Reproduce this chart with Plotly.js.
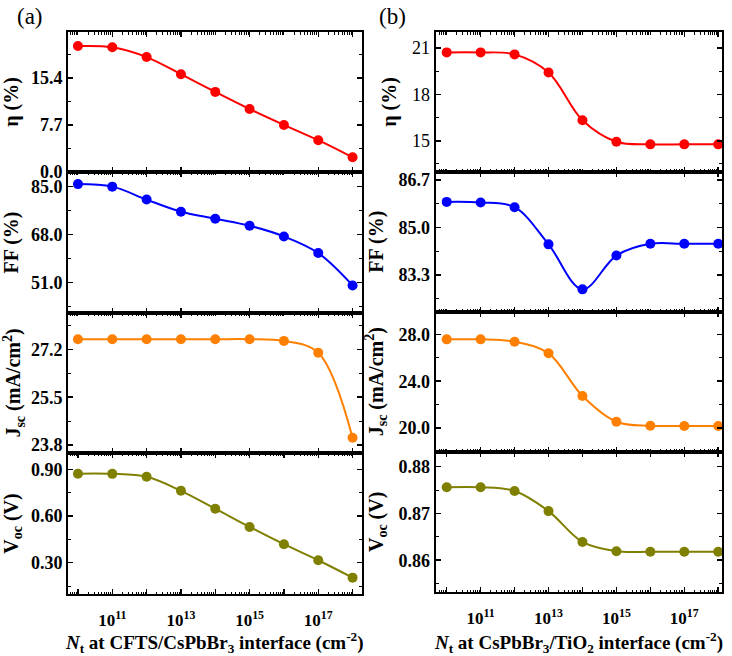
<!DOCTYPE html>
<html><head><meta charset="utf-8">
<script src="https://cdn.plot.ly/plotly-3.0.1.min.js"></script>
<style>html,body{margin:0;padding:0;background:#fff}</style>
</head><body>
<div id="chart" style="width:732px;height:656px"></div>
<script>
// Trap density N_t (cm^-2)
const nt = [1e10, 1e11, 1e12, 1e13, 1e14, 1e15, 1e16, 1e17, 1e18];
// (a) CFTS/CsPbBr3 interface
const etaA = [20.6, 20.4, 18.8, 16.0, 13.1, 10.3, 7.7, 5.2, 2.4];
const ffA  = [85.9, 85.0, 80.4, 76.1, 73.6, 71.1, 67.3, 61.4, 49.9];
const jscA = [27.56, 27.56, 27.56, 27.56, 27.56, 27.56, 27.5, 27.08, 24.06];
const vocA = [0.872, 0.871, 0.852, 0.762, 0.647, 0.530, 0.419, 0.316, 0.204];
// (b) CsPbBr3/TiO2 interface
const etaB = [20.72, 20.72, 20.59, 19.42, 16.33, 14.94, 14.77, 14.77, 14.77];
const ffB  = [85.92, 85.90, 85.73, 84.40, 82.79, 84.00, 84.42, 84.42, 84.42];
const jscB = [27.6, 27.6, 27.4, 26.4, 22.73, 20.52, 20.17, 20.15, 20.15];
const vocB = [0.8756, 0.8756, 0.8748, 0.8705, 0.8639, 0.8619, 0.8618, 0.8618, 0.8618];
// x tick labels
const xTickVals = [1e10, 1e11, 1e12, 1e13, 1e14, 1e15, 1e16, 1e17, 1e18];
const xTickText = ['', '10<sup>11</sup>', '', '10<sup>13</sup>', '', '10<sup>15</sup>', '', '10<sup>17</sup>', ''];
const yTitles = ['η (%)', 'FF (%)', 'J<sub>sc</sub> (mA/cm<sup>2</sup>)', 'V<sub>oc</sub> (V)'];
const xTitleA = '<i>N</i><sub>t</sub> at CFTS/CsPbBr<sub>3</sub> interface (cm<sup>-2</sup>)';
const xTitleB = '<i>N</i><sub>t</sub> at CsPbBr<sub>3</sub>/TiO<sub>2</sub> interface (cm<sup>-2</sup>)';

const colors = ['#ff0000', '#0000ff', '#ff8000', '#808000'];
const W = 732, H = 656;
const serif = 'Liberation Serif';

const panels = [
  {y: etaA, range: [0, 22.9], tick0: 0, dtick: 7.7, fmt: '.1f', bold: true},
  {y: ffA, range: [40.1, 90.2], tick0: 51, dtick: 17, fmt: '.1f', bold: true},
  {y: jscA, range: [23.52, 28.49], tick0: 23.8, dtick: 1.7, fmt: '.1f', bold: true},
  {y: vocA, range: [0.099, 1.005], tick0: 0.3, dtick: 0.3, fmt: '.2f', bold: true},
  {y: etaB, range: [13.0, 22.02], tick0: 15, dtick: 3, fmt: 'd', bold: false},
  {y: ffB, range: [81.99, 87.0], tick0: 83.3, dtick: 1.7, fmt: '.1f', bold: true},
  {y: jscB, range: [17.94, 29.98], tick0: 20, dtick: 4, fmt: '.1f', bold: true},
  {y: vocB, range: [0.8532, 0.8832], tick0: 0.86, dtick: 0.01, fmt: '.2f', bold: true}
];

const colX = [[68 / W, 361.5 / W], [435.7 / W, 722.3 / W]];
const colXRange = [[9.71, 18.26], [9.676, 18.12]];
const bounds = [[32, 172, 313, 453, 594], [32.3, 171.7, 311.7, 451.7, 592]];

const data = [];
const layout = {
  width: W, height: H,
  margin: {l: 0, r: 0, t: 0, b: 0},
  paper_bgcolor: '#fff', plot_bgcolor: '#fff',
  showlegend: false,
  font: {family: serif, color: '#000'},
  annotations: [
    {text: '(a)', x: 30 / W, y: 1 - 16 / H, xref: 'paper', yref: 'paper', showarrow: false,
     xanchor: 'center', yanchor: 'middle', font: {family: serif, size: 23, color: '#000'}},
    {text: '(b)', x: 392 / W, y: 1 - 16 / H, xref: 'paper', yref: 'paper', showarrow: false,
     xanchor: 'center', yanchor: 'middle', font: {family: serif, size: 23, color: '#000'}}
  ]
};

panels.forEach((p, i) => {
  const col = i < 4 ? 0 : 1;
  const row = i % 4;
  const n = i + 1;
  const xa = 'x' + (n === 1 ? '' : n), ya = 'y' + (n === 1 ? '' : n);
  const xk = 'xaxis' + (n === 1 ? '' : n), yk = 'yaxis' + (n === 1 ? '' : n);
  data.push({
    x: nt, y: p.y, xaxis: xa, yaxis: ya, type: 'scatter', mode: 'lines+markers',
    line: {color: colors[row], width: 2, shape: 'spline', smoothing: 1},
    marker: {color: colors[row], size: 10, symbol: 'circle'}
  });
  const b = bounds[col];
  const isBottom = row === 3;
  layout[xk] = {
    type: 'log', domain: colX[col], range: colXRange[col], anchor: ya,
    showline: true, linewidth: 2, linecolor: '#000', mirror: 'ticks',
    ticks: 'inside', ticklen: 5, tickwidth: 1.5, tickcolor: '#000',
    tickmode: 'array', tickvals: xTickVals, ticktext: xTickText,
    showticklabels: isBottom, showgrid: false, zeroline: false,
    ticklabelstandoff: 10,
    tickfont: {family: serif, size: 17, color: '#000', weight: 'bold'},
    minor: {ticks: 'inside', ticklen: 2.5, tickwidth: 1, tickcolor: '#000', dtick: 'D1', showgrid: false},
    title: isBottom ? {text: col === 0 ? xTitleA : xTitleB, standoff: 12,
      font: {family: serif, size: 19, color: '#000', weight: 'bold'}} : {text: ''}
  };
  layout[yk] = {
    domain: [1 - b[row + 1] / H, 1 - b[row] / H], range: p.range, anchor: xa,
    showline: true, linewidth: 2, linecolor: '#000', mirror: 'ticks',
    ticks: 'inside', ticklen: 5, tickwidth: 1.5, tickcolor: '#000',
    tickmode: 'linear', tick0: p.tick0, dtick: p.dtick, tickformat: p.fmt,
    showgrid: false, zeroline: false,
    tickfont: {family: serif, size: 18, color: '#000', weight: p.bold ? 'bold' : 'normal'},
    minor: {ticks: 'inside', ticklen: 3, tickwidth: 1, tickcolor: '#000', tick0: p.tick0, dtick: p.dtick / 2, showgrid: false},
    title: {text: yTitles[row], standoff: 10, font: {family: serif, size: 20, color: '#000', weight: 'bold'}}
  };
});

Plotly.newPlot('chart', data, layout, {displayModeBar: false, staticPlot: true});
</script>
</body></html>
